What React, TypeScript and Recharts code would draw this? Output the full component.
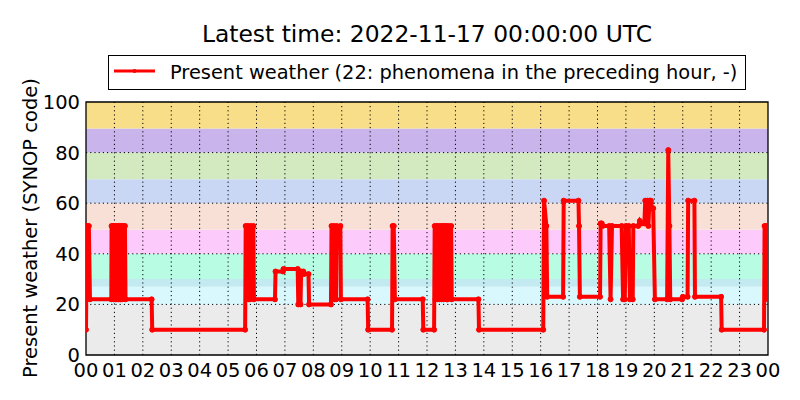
import React from "react";
import { LineChart, Line, XAxis, YAxis, ReferenceArea, ReferenceLine } from "recharts";

// hours since 00 UTC, present weather code
const TIMES = [
  0.0, 0.03, 0.1, 0.14, 0.89, 0.9, 0.95, 0.97, 1.0, 1.03, 1.06, 1.09, 1.12, 1.15, 1.18, 1.21, 1.24, 1.27, 1.3, 1.37, 1.39,
  2.31, 2.33, 5.6, 5.62, 5.69, 5.71, 5.77, 5.79, 5.89, 5.91, 6.65, 6.67, 6.93, 6.95, 7.45, 7.47, 7.55, 7.57, 7.65, 7.67,
  7.83, 7.85, 8.62, 8.64, 8.72, 8.74, 8.8, 8.82, 8.95, 8.97, 9.91, 9.93, 10.77, 10.79, 10.83, 10.87, 11.85, 11.87, 12.25,
  12.27, 12.3, 12.33, 12.37, 12.4, 12.44, 12.47, 12.51, 12.54, 12.58, 12.61, 12.67, 12.69, 12.73, 12.75, 12.85, 12.87,
  13.81, 13.83, 16.09, 16.12, 16.2, 16.23, 16.79, 16.81, 17.33, 17.35, 17.38, 18.09, 18.11, 18.15, 18.18, 18.41, 18.46,
  18.51, 18.85, 18.9, 18.96, 19.0, 19.1, 19.14, 19.24, 19.26, 19.43, 19.49, 19.55, 19.65, 19.68, 19.76, 19.79, 19.83,
  19.88, 19.91, 19.96, 20.02, 20.45, 20.49, 20.53, 20.56, 20.98, 21.0, 21.17, 21.19, 21.41, 21.43, 22.35, 22.37, 23.86,
  23.88, 23.93, 24.0,
];
const CODES = [
  10, 51, 51, 22, 22, 51, 51, 22, 51, 22, 51, 22, 51, 22, 51, 22, 51, 22, 51, 51, 22,
  22, 10, 10, 51, 51, 22, 22, 51, 51, 22, 22, 33, 33, 34, 34, 20, 20, 33, 33, 32,
  32, 20, 20, 51, 51, 22, 22, 51, 51, 22, 22, 10, 10, 51, 51, 22, 22, 10, 10,
  51, 22, 51, 22, 51, 22, 51, 22, 51, 22, 51, 51, 22, 22, 51, 51, 22,
  22, 10, 10, 61, 51, 23, 23, 61, 61, 51, 23, 23, 52, 52, 51, 51, 22,
  51, 51, 22, 22, 51, 51, 22, 22, 51, 51, 53, 52, 52, 61, 61, 51, 61,
  61, 58, 58, 22, 22, 81, 51, 22, 22, 23, 23, 61, 61, 23, 23, 10, 10,
  51, 51, 22,
];

const HOUR_TICKS = Array.from({ length: 25 }, (_, i) => i);
const CODE_TICKS = [0, 20, 40, 60, 80, 100];

// SYNOP code groups shaded behind the series
const BAND_FROM = [0, 20, 27, 30, 40, 49.5, 60, 69.5, 80, 89.5];
const BAND_TO = [20, 27, 30, 40, 49.5, 60, 69.5, 80, 89.5, 100];
const BAND_COLORS = [
  "#ebebeb", "#d9f8fd", "#c3e9f1", "#b9fce4", "#fccbfb",
  "#f8e0d6", "#c9d6f4", "#d3eac1", "#c9b5ec", "#f8de89",
];

const data = TIMES.map((t, i) => ({ t, code: CODES[i] }));
const FONT = "'DejaVu Sans', sans-serif";

export default function App() {
  return (
    <div style={{ position: "absolute", left: 0, top: 0, width: 800, height: 400, background: "#fff", fontFamily: FONT }}>
      <LineChart width={800} height={400} data={data} margin={{ top: 102, right: 32, left: 0, bottom: 15 }}>
        {BAND_FROM.map((y1, i) => (
          <ReferenceArea key={"b" + i} y1={y1} y2={BAND_TO[i]} x1={0} x2={24} fill={BAND_COLORS[i]} fillOpacity={1} stroke="none" />
        ))}
        {HOUR_TICKS.slice(1, -1).map((h) => (
          <ReferenceLine key={"x" + h} x={h} stroke="#000" strokeDasharray="1.2 3" strokeWidth={1} />
        ))}
        {CODE_TICKS.slice(1, -1).map((v) => (
          <ReferenceLine key={"y" + v} y={v} stroke="#000" strokeDasharray="1.2 3" strokeWidth={1} />
        ))}
        <XAxis
          type="number"
          dataKey="t"
          domain={[0, 24]}
          ticks={HOUR_TICKS}
          tickFormatter={(h) => String(h % 24).padStart(2, "0")}
          height={30}
          tickSize={0}
          tickMargin={8}
          axisLine={false}
          tick={{ fill: "#000", fontSize: 19.5, fontFamily: FONT }}
          allowDataOverflow
        />
        <YAxis
          domain={[0, 100]}
          ticks={CODE_TICKS}
          width={86}
          tickSize={0}
          tickMargin={6}
          axisLine={false}
          tick={{ fill: "#000", fontSize: 19.5, fontFamily: FONT }}
        />
        <Line
          type="linear"
          dataKey="code"
          stroke="#ff0000"
          strokeWidth={4}
          dot={{ r: 2.5, fill: "#ff0000", stroke: "#ff0000", strokeWidth: 1 }}
          isAnimationActive={false}
        />
        <ReferenceArea x1={0} x2={24} y1={0} y2={100} fill="none" stroke="#000" strokeWidth={1.3} />
      </LineChart>
      <svg width={800} height={400} style={{ position: "absolute", left: 0, top: 0, pointerEvents: "none" }} fontFamily={FONT}>
        <text x={427} y={42} textAnchor="middle" fontSize={23.4} fill="#000">
          Latest time: 2022-11-17 00:00:00 UTC
        </text>
        <rect x={108.5} y={55.5} width={637} height={34} fill="#fff" stroke="#000" strokeWidth={1} />
        <line x1={114} y1={71} x2={155} y2={71} stroke="#ff0000" strokeWidth={3} />
        <circle cx={134.5} cy={71} r={2} fill="#ff0000" />
        <text x={170} y={78.5} fontSize={19.4} fill="#000">
          Present weather (22: phenomena in the preceding hour, -)
        </text>
        <text x={37} y={228} transform="rotate(-90 37 228)" textAnchor="middle" fontSize={19.5} fill="#000">
          Present weather (SYNOP code)
        </text>
      </svg>
    </div>
  );
}
